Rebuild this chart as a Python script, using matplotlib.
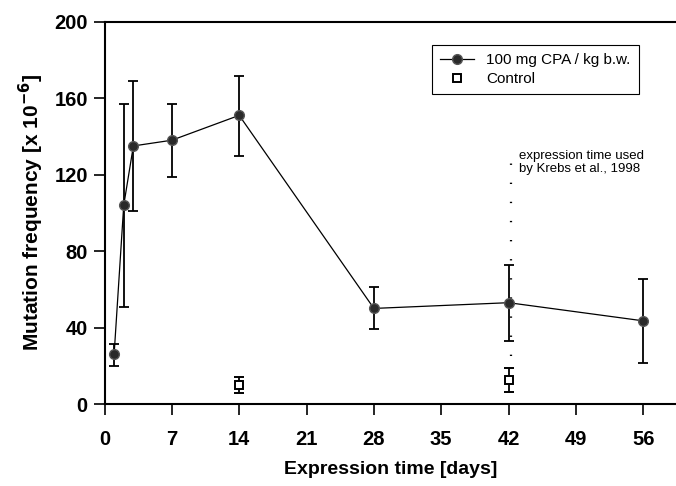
import matplotlib.pyplot as plt
from matplotlib.lines import Line2D

plt.rcParams['font.family'] = ['Liberation Sans', 'DejaVu Sans']

# 100 mg CPA / kg b.w.
days = [1, 2, 3, 7, 14, 28, 42, 56]
freq = [26, 104, 135, 138, 151, 50, 53, 43.5]
err_lo = [20, 51, 101, 119, 129.5, 39, 33, 21.5]
err_hi = [31.5, 157, 169, 157, 171.5, 61, 72.7, 65.5]

# control
ctrl_days = [14, 42]
ctrl_freq = [10, 12.6]
ctrl_lo = [6, 6.3]
ctrl_hi = [14.2, 18.8]

# expression time used by Krebs et al.
krebs_x = 42.3
krebs_y = [25, 131]

fig = plt.figure(figsize=(6.76, 4.86), dpi=100)
ax = fig.add_axes([104.5 / 676, 1 - 404 / 486, (676 - 104.5) / 676, (404 - 21.7) / 486])

yerr = [[f - lo for f, lo in zip(freq, err_lo)], [hi - f for f, hi in zip(freq, err_hi)]]
ax.errorbar(days, freq, yerr=yerr, fmt='-o', color='black', mfc='#2a2a2a', mec='#555555',
            ms=7, lw=0.9, elinewidth=1.3, capsize=3.6, capthick=1.3, zorder=3)

cerr = [[f - lo for f, lo in zip(ctrl_freq, ctrl_lo)], [hi - f for f, hi in zip(ctrl_freq, ctrl_hi)]]
ax.errorbar(ctrl_days, ctrl_freq, yerr=cerr, fmt='s', color='black', mfc='white', mec='black',
            ms=6, mew=1.4, elinewidth=1.3, capsize=3.6, capthick=1.3, zorder=3)

ax.plot([krebs_x, krebs_x], krebs_y, color='black', lw=1.6, linestyle=(0, (0.6, 8)), zorder=2)
ax.text(43.1, 126.5, 'expression time used\nby Krebs et al., 1998', fontsize=9.5,
        va='center', ha='left', linespacing=1.15)

ax.set_xlim(0, 59.4)
ax.set_ylim(0, 200)
ax.set_xticks(range(0, 57, 7))
ax.set_yticks(range(0, 201, 40))
ax.tick_params(direction='out', length=8, width=1.2, labelsize=14.5, pad=11)
ax.tick_params(axis='y', length=8, pad=4)
for lab in ax.get_xticklabels() + ax.get_yticklabels():
    lab.set_fontweight('bold')

ax.spines['right'].set_visible(False)
for s in ['left', 'bottom', 'top']:
    ax.spines[s].set_linewidth(1.5)

ax.set_xlabel('Expression time [days]', fontsize=14, fontweight='bold', labelpad=8)
ax.set_ylabel(r'Mutation frequency [x 10$^{\mathbf{-6}}$]', fontsize=15, fontweight='bold', labelpad=6)

handles = [Line2D([], [], color='black', lw=0.9, marker='o', mfc='#2a2a2a', mec='#555555', ms=7),
           Line2D([], [], color='none', marker='s', mfc='white', mec='black', ms=6, mew=1.4)]
leg = ax.legend(handles, ['100 mg CPA / kg b.w.', 'Control'], loc='upper left',
                bbox_to_anchor=(0.573, 0.939), fontsize=11, fancybox=False, framealpha=1,
                handlelength=2.2, borderpad=0.55, labelspacing=0.3, borderaxespad=0)
leg.get_frame().set_edgecolor('black')
leg.get_frame().set_linewidth(0.8)

fig.savefig('out.png', dpi=100)
